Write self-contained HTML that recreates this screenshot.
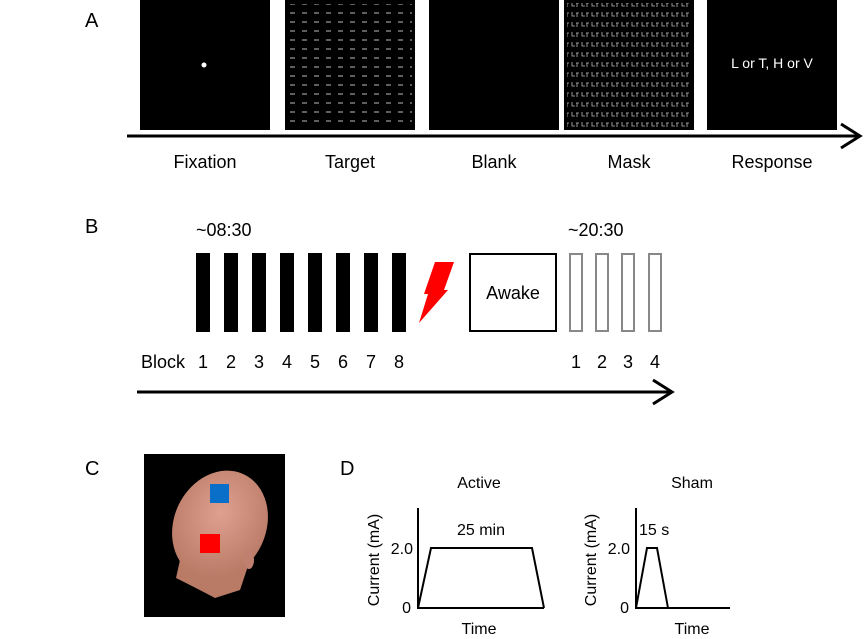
<!DOCTYPE html>
<html><head><style>body{margin:0;background:#fff}svg{display:block}text{font-family:"Liberation Sans",sans-serif;fill:#000}</style></head><body>
<svg width="865" height="639" viewBox="0 0 865 639" xmlns="http://www.w3.org/2000/svg">
<defs>
<pattern id="tg" width="12" height="9" patternUnits="userSpaceOnUse"><line x1="2" y1="4" x2="7" y2="4" stroke="#bbb" stroke-width="1"/></pattern>
<pattern id="mk" width="10" height="10" patternUnits="userSpaceOnUse"><path d="M2 2v4h3M7 3v4M6 3h3" stroke="#bbb" stroke-width="0.8" fill="none"/></pattern>
<radialGradient id="hd" cx="0.45" cy="0.4" r="0.6"><stop offset="0" stop-color="#e0a090"/><stop offset="1" stop-color="#b97a66"/></radialGradient>
</defs>
<!-- A -->
<text x="85" y="27" font-size="20">A</text>
<rect x="140" y="0" width="130" height="130" fill="#000"/>
<circle cx="204" cy="65" r="2.5" fill="#fff"/>
<rect x="285" y="0" width="130" height="130" fill="#000"/>
<rect x="288" y="4" width="124" height="122" fill="url(#tg)"/>
<rect x="429" y="0" width="130" height="130" fill="#000"/>
<rect x="564" y="0" width="130" height="130" fill="#000"/>
<rect x="567" y="3" width="124" height="124" fill="url(#mk)"/>
<rect x="707" y="0" width="130" height="130" fill="#000"/>
<text x="772" y="68" font-size="14" text-anchor="middle" style="fill:#fff">L or T, H or V</text>
<line x1="127" y1="136" x2="860" y2="136" stroke="#000" stroke-width="3"/>
<polyline points="841,124 860,136 841,148" fill="none" stroke="#000" stroke-width="3"/>
<g font-size="18" text-anchor="middle">
<text x="205" y="168">Fixation</text><text x="350" y="168">Target</text><text x="494" y="168">Blank</text><text x="629" y="168">Mask</text><text x="772" y="168">Response</text>
</g>
<!-- B -->
<text x="85" y="233" font-size="20">B</text>
<text x="196" y="236" font-size="18">~08:30</text>
<text x="568" y="236" font-size="18">~20:30</text>
<g fill="#000">
<rect x="196" y="253" width="14" height="79"/><rect x="224" y="253" width="14" height="79"/><rect x="252" y="253" width="14" height="79"/><rect x="280" y="253" width="14" height="79"/><rect x="308" y="253" width="14" height="79"/><rect x="336" y="253" width="14" height="79"/><rect x="364" y="253" width="14" height="79"/><rect x="392" y="253" width="14" height="79"/>
</g>
<polygon points="435,262 454,262 444,290 448,290 419,323 428,294 424,294" fill="#f00"/>
<rect x="470" y="254" width="86" height="77" fill="none" stroke="#000" stroke-width="2"/>
<text x="513" y="299" font-size="18" text-anchor="middle">Awake</text>
<g fill="none" stroke="#888" stroke-width="2">
<rect x="570" y="254" width="12" height="77"/><rect x="596" y="254" width="12" height="77"/><rect x="622" y="254" width="12" height="77"/><rect x="649" y="254" width="12" height="77"/>
</g>
<g font-size="18" text-anchor="middle">
<text x="163" y="368">Block</text>
<text x="203" y="368">1</text><text x="231" y="368">2</text><text x="259" y="368">3</text><text x="287" y="368">4</text><text x="315" y="368">5</text><text x="343" y="368">6</text><text x="371" y="368">7</text><text x="399" y="368">8</text>
<text x="576" y="368">1</text><text x="602" y="368">2</text><text x="628" y="368">3</text><text x="655" y="368">4</text>
</g>
<line x1="137" y1="392" x2="672" y2="392" stroke="#000" stroke-width="3"/>
<polyline points="653,380 672,392 653,404" fill="none" stroke="#000" stroke-width="3"/>
<!-- C -->
<text x="85" y="475" font-size="20">C</text>
<rect x="144" y="454" width="141" height="163" fill="#000"/>
<path d="M180 560 L176 578 Q200 590 215 598 L240 590 L250 560 Z" fill="#b97a66"/>
<ellipse cx="220" cy="525" rx="46" ry="56" transform="rotate(25 220 525)" fill="url(#hd)"/>
<ellipse cx="249" cy="560" rx="5" ry="9" fill="#c08070"/>
<rect x="210" y="484" width="19" height="19" fill="#0a6fc8"/>
<rect x="200" y="534" width="20" height="19" fill="#f00"/>
<!-- D -->
<text x="340" y="475" font-size="20">D</text>
<text x="479" y="488" font-size="16" text-anchor="middle">Active</text>
<text x="692" y="488" font-size="16" text-anchor="middle">Sham</text>
<g fill="none" stroke="#000" stroke-width="2">
<polyline points="418,508 418,608 544,608"/>
<polyline points="418,608 431,548 532,548 544,608"/>
<polyline points="636,508 636,608 730,608"/>
<polyline points="636,608 647,548 657,548 668,608"/>
</g>
<g font-size="16">
<text x="481" y="535" text-anchor="middle">25 min</text>
<text x="639" y="535">15 s</text>
<text x="413" y="554" text-anchor="end">2.0</text>
<text x="411" y="613" text-anchor="end">0</text>
<text x="630" y="554" text-anchor="end">2.0</text>
<text x="629" y="613" text-anchor="end">0</text>
<text x="479" y="634" text-anchor="middle">Time</text>
<text x="692" y="634" text-anchor="middle">Time</text>
<text transform="translate(379,560) rotate(-90)" text-anchor="middle">Current (mA)</text>
<text transform="translate(596,560) rotate(-90)" text-anchor="middle">Current (mA)</text>
</g>
</svg>
</body></html>
